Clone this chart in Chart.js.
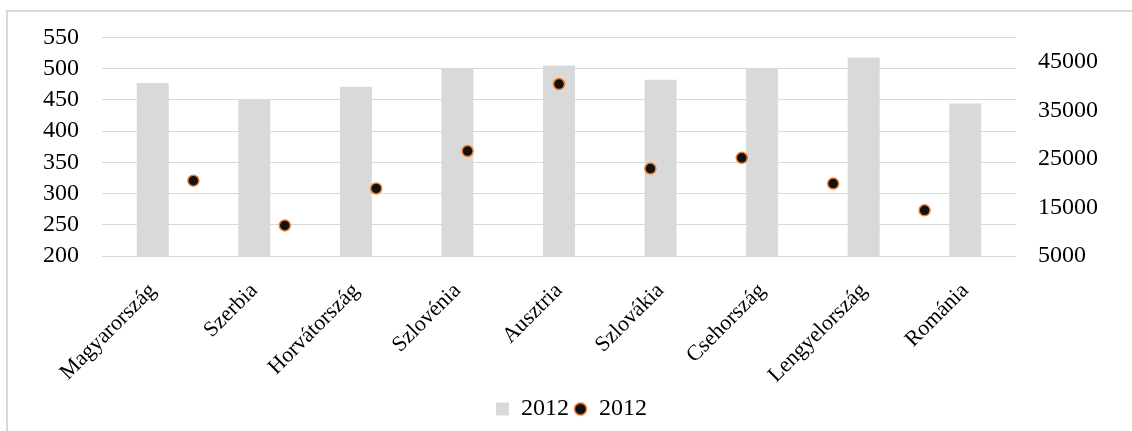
<!DOCTYPE html>
<html>
<head>
<meta charset="utf-8">
<script src="https://cdn.jsdelivr.net/npm/chart.js@4.4.1/dist/chart.umd.min.js"></script>
<style>
  html, body { margin: 0; padding: 0; background: #fff; }
  #wrap { position: relative; width: 1132px; height: 431px; }
  #frame { position: absolute; left: 6px; top: 10px; right: 0; bottom: 0;
           border-left: 2px solid #d9d9d9; border-top: 2px solid #d9d9d9; }
  canvas { position: absolute; left: 0; top: 0; }
</style>
</head>
<body>
<div id="wrap">
  <div id="frame"></div>
  <canvas id="chart" width="1132" height="431"></canvas>
</div>
<script>
// adatok
const orszagok = ["Magyarország", "Szerbia", "Horvátország", "Szlovénia", "Ausztria",
                  "Szlovákia", "Csehország", "Lengyelország", "Románia"];
const oszlopErtekek = [477, 450, 471, 500, 505, 482, 500, 518, 444];
const pontErtekek = [20500, 11300, 18900, 26600, 40400, 23000, 25200, 19900, 14400];
const jobbTengelyTickek = [5000, 15000, 25000, 35000, 45000];
const sorozatNev = "2012";

const betu = { family: "'Liberation Serif', 'Times New Roman', serif", size: 24 };
const kisBetu = { family: "'Liberation Serif', 'Times New Roman', serif", size: 22 };

// kis kör a jelmagyarázathoz
const korJel = document.createElement("canvas");
korJel.width = 15; korJel.height = 15;
(() => {
  const c = korJel.getContext("2d");
  c.beginPath();
  c.arc(7.5, 7.5, 6, 0, Math.PI * 2);
  c.fillStyle = "#111";
  c.fill();
  c.lineWidth = 1.5;
  c.strokeStyle = "#ed7d31";
  c.stroke();
})();

new Chart(document.getElementById("chart"), {
  type: "bar",
  data: {
    labels: orszagok,
    datasets: [
      {
        type: "bar",
        label: sorozatNev,
        data: oszlopErtekek,
        backgroundColor: "#d9d9d9",
        categoryPercentage: 1,
        barPercentage: 0.315,
        grouped: false,
        xAxisID: "x",
        yAxisID: "y",
        order: 2
      },
      {
        type: "line",
        label: sorozatNev,
        data: pontErtekek.map((v, i) => ({ x: i, y: v })),
        showLine: false,
        pointRadius: 5.5,
        pointBorderWidth: 1.5,
        pointBackgroundColor: "#111",
        pointBorderColor: "#ed7d31",
        xAxisID: "x2",
        yAxisID: "y1",
        order: 1
      }
    ]
  },
  options: {
    responsive: false,
    animation: false,
    layout: { padding: { left: 43, right: 32, top: 23, bottom: 0 } },
    plugins: {
      tooltip: { enabled: false },
      legend: {
        position: "bottom",
        labels: {
          font: betu,
          color: "#000",
          usePointStyle: true,
          boxWidth: 13,
          boxHeight: 13,
          padding: 5,
          generateLabels(chart) {
            const items = Chart.defaults.plugins.legend.labels.generateLabels(chart);
            items[0].pointStyle = "rect";
            items[0].fillStyle = "#d9d9d9";
            items[0].strokeStyle = "#d9d9d9";
            items[0].lineWidth = 0;
            items[1].pointStyle = korJel;
            return items;
          }
        }
      }
    },
    scales: {
      x: {
        type: "category",
        grid: { display: false },
        border: { display: false },
        ticks: { font: kisBetu, color: "#000", maxRotation: 45, minRotation: 45, padding: 14, autoSkip: false },
        afterFit(scale) {
          scale.paddingLeft = 0;
          scale.paddingRight = 0;
          scale.height = 136;
        }
      },
      x2: {
        type: "linear",
        display: false,
        offset: false,
        min: -1,
        max: 9
      },
      y: {
        position: "left",
        min: 200,
        max: 550,
        grid: { color: "#d9d9d9", lineWidth: 1, drawTicks: false },
        border: { display: false },
        ticks: { stepSize: 50, font: betu, color: "#000", padding: 23, autoSkip: false },
        afterFit(scale) { scale.width = 59; }
      },
      y1: {
        position: "right",
        min: 5000,
        max: 50000,
        grid: { display: false, drawTicks: false },
        border: { display: false },
        afterBuildTicks(scale) {
          scale.ticks = jobbTengelyTickek.map(v => ({ value: v }));
        },
        ticks: { font: betu, color: "#000", padding: 22, autoSkip: false, callback: v => String(v) },
        afterFit(scale) { scale.width = 84; }
      }
    }
  }
});
</script>
</body>
</html>
